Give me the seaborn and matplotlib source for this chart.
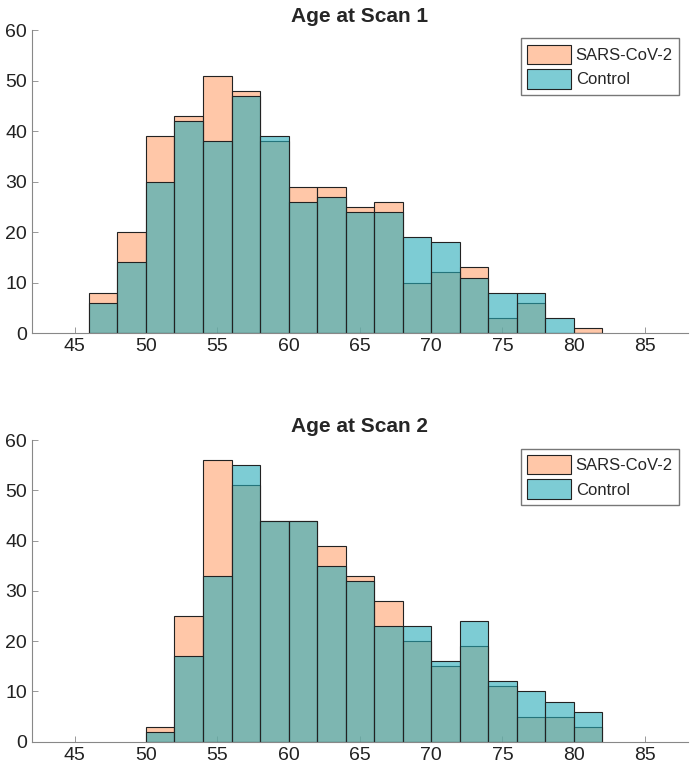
import numpy as np
import pandas as pd
import matplotlib.pyplot as plt
import seaborn as sns

# bin edges (2-year bins)
edges1 = [46, 48, 50, 52, 54, 56, 58, 60, 62, 64, 66, 68, 70, 72, 74, 76, 78, 80, 82]
sars1 = [8, 20, 39, 43, 51, 48, 38, 29, 29, 25, 26, 10, 12, 13, 3, 6, 0, 1]
ctrl1 = [6, 14, 30, 42, 38, 47, 39, 26, 27, 24, 24, 19, 18, 11, 8, 8, 3, 0]

edges2 = [50, 52, 54, 56, 58, 60, 62, 64, 66, 68, 70, 72, 74, 76, 78, 80, 82]
sars2 = [3, 25, 56, 51, 44, 44, 39, 33, 28, 20, 15, 19, 11, 5, 5, 3]
ctrl2 = [2, 17, 33, 55, 44, 44, 35, 32, 23, 23, 16, 24, 12, 10, 8, 6]

titles = ['Age at Scan 1', 'Age at Scan 2']

sns.set_style('white')
plt.rcParams['font.family'] = ['Liberation Sans', 'DejaVu Sans']

sars_col = (1.0, 0.64, 0.43)
ctrl_col = (0.15, 0.67, 0.72)

fig = plt.figure(figsize=(6.94, 7.71), dpi=100)
ax1 = fig.add_axes([0.046, 0.568, 0.945, 0.393])
ax2 = fig.add_axes([0.046, 0.038, 0.945, 0.391])

for ax, edges, sars, ctrl, title in [(ax1, edges1, sars1, ctrl1, titles[0]),
                                     (ax2, edges2, sars2, ctrl2, titles[1])]:
    centers = (np.array(edges[:-1]) + np.array(edges[1:])) / 2
    df = pd.DataFrame({'age': np.concatenate([centers, centers]),
                       'n': sars + ctrl,
                       'grp': ['SARS-CoV-2'] * len(sars) + ['Control'] * len(ctrl)})
    sns.histplot(data=df[df.grp == 'SARS-CoV-2'], x='age', weights='n', bins=edges,
                 color=sars_col, alpha=0.6, edgecolor='#222222', linewidth=0.8,
                 ax=ax, label='SARS-CoV-2')
    sns.histplot(data=df[df.grp == 'Control'], x='age', weights='n', bins=edges,
                 color=ctrl_col, alpha=0.6, edgecolor='#222222', linewidth=0.8,
                 ax=ax, label='Control')
    ax.set_xlim(42, 88)
    ax.set_ylim(0, 60)
    ax.set_xticks(range(45, 90, 5))
    ax.set_yticks(range(0, 70, 10))
    ax.set_xlabel('')
    ax.set_ylabel('')
    ax.set_title(title, fontsize=15, fontweight='bold', pad=6)
    for s in ['top', 'right']:
        ax.spines[s].set_visible(False)
    for s in ['left', 'bottom']:
        ax.spines[s].set_color('#888888')
        ax.spines[s].set_linewidth(0.8)
    ax.tick_params(axis='both', direction='in', length=4, width=0.6, color='#888888',
                   labelsize=14, labelcolor='#222222', bottom=True, left=True)
    ax.legend(loc='upper right', fontsize=12, frameon=True, fancybox=False,
              edgecolor='#555555', handlelength=2.6, handleheight=1.4,
              borderpad=0.4, labelspacing=0.3, handletextpad=0.3)

plt.savefig('out.png', dpi=100)
